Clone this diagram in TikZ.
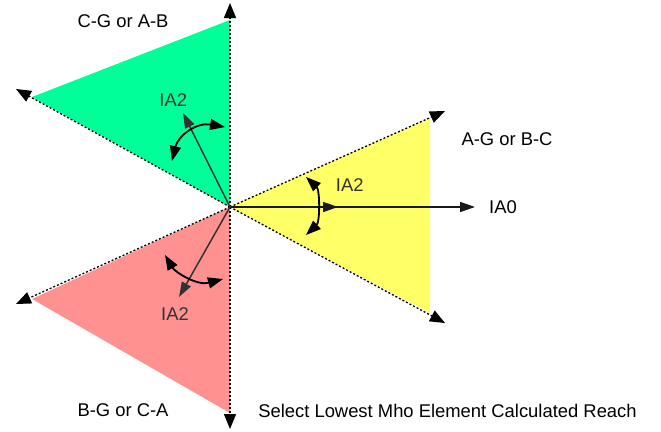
\documentclass[tikz,border=0pt]{standalone}
\usepackage{fontspec}
\setmainfont{Liberation Sans}
\usetikzlibrary{arrows.meta}
\definecolor{zgreen}{RGB}{0,255,153}
\definecolor{zyellow}{RGB}{255,255,102}
\definecolor{zred}{RGB}{255,145,145}
\definecolor{vecgray}{RGB}{51,51,51}
\tikzset{
  boundary/.style={black, line width=1.3pt, dash pattern=on 2pt off 2pt,
    -{Triangle[length=15pt,width=12pt]}},
  vec/.style={vecgray, line width=1.5pt, -{Triangle[length=15pt,width=10pt]}},
  swing/.style={black, line width=1.8pt,
    {Triangle[length=15pt,width=11pt]}-{Triangle[length=15pt,width=11pt]}},
  lbl/.style={font=\fontsize{18.4pt}{20pt}\selectfont, inner sep=0pt, anchor=base},
  vlbl/.style={lbl, text=vecgray}
}
\begin{document}
\begin{tikzpicture}[x=1pt,y=-1pt]
\useasboundingbox (0,0) rectangle (661,431);
% key points
\coordinate (O) at (230,207);
\coordinate (gtop) at (230,20);   \coordinate (gtoptip) at (230,3);
\coordinate (gleft) at (32,97);   \coordinate (glefttip) at (16,89);
\coordinate (yup) at (430,118);   \coordinate (yuptip) at (445,111);
\coordinate (ydown) at (430,313); \coordinate (ydowntip) at (445,323);
\coordinate (rleft) at (32,299);  \coordinate (rlefttip) at (16,304);
\coordinate (rbot) at (230,413);  \coordinate (rbottip) at (230,429);
% sectors
\fill[zgreen] (O) -- (gtop) -- (gleft) -- cycle;
\fill[zyellow] (O) -- (yup) -- (ydown) -- cycle;
\fill[zred] (O) -- (rleft) -- (rbot) -- cycle;
% boundaries
\draw[boundary] (O) -- (gtoptip);
\draw[boundary] (O) -- (glefttip);
\draw[boundary] (O) -- (yuptip);
\draw[boundary] (O) -- (ydowntip);
\draw[boundary] (O) -- (rlefttip);
\draw[boundary] (O) -- (rbottip);
% vectors
\coordinate (ia0mid) at (338,207);
\coordinate (ia0end) at (475,207);
\coordinate (ia2g) at (183,113);
\coordinate (ia2r) at (179,297);
\draw[vec, black!90] (O) -- (ia0mid);
\draw[vec, black!90] (O) -- (ia0end);
\draw[vec] (O) -- (ia2g);
\draw[vec] (O) -- (ia2r);
% swing arrows
\coordinate (gs1) at (172,161); \coordinate (gs2) at (225,127);
\coordinate (ys1) at (306,177); \coordinate (ys2) at (306,235);
\coordinate (rs1) at (165,255); \coordinate (rs2) at (223,279);
\draw[swing] (gs1) .. controls (178,136) and (196,122) .. (gs2);
\draw[swing] (ys1) .. controls (320,190) and (320,222) .. (ys2);
\draw[swing] (rs1) .. controls (175,272) and (197,286) .. (rs2);
% labels
\node[lbl] (tcg) at (123,27.5) {C-G or A-B};
\node[lbl] (tag) at (507,145) {A-G or B-C};
\node[lbl] (tbg) at (123,416.7) {B-G or C-A};
\node[lbl] (tsel) at (447.5,417.3) {Select Lowest Mho Element Calculated Reach};
\node[lbl] (tia0) at (503,213.3) {IA0};
\node[vlbl] (tia2g) at (173.3,106) {IA2};
\node[vlbl] (tia2y) at (349.7,191) {IA2};
\node[vlbl] (tia2r) at (175,320) {IA2};
\end{tikzpicture}
\end{document}
